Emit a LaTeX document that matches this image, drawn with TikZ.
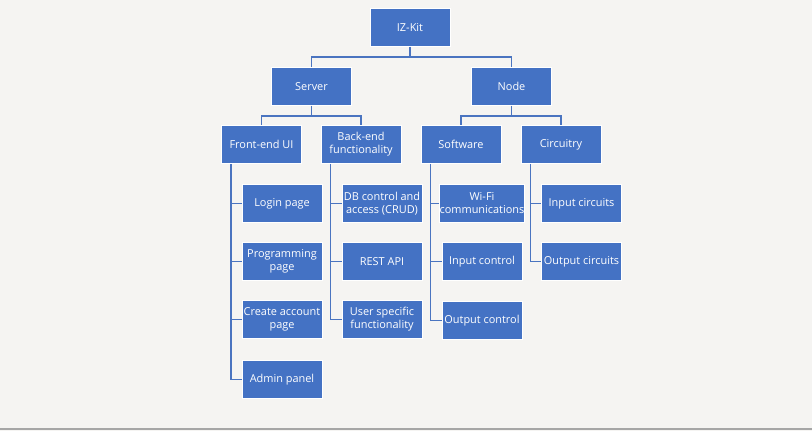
\documentclass[tikz,border=0pt]{standalone}
\usepackage{fontspec}
\setmainfont{Open Sans}
\definecolor{boxblue}{HTML}{4472C4}
\definecolor{linkblue}{HTML}{4A74C0}
\definecolor{paper}{HTML}{F5F4F2}
\definecolor{rule}{HTML}{A6A6A6}
\begin{document}
\begin{tikzpicture}
[x=0.75pt,y=-0.75pt,
 box/.style={fill=boxblue,draw=white,line width=0.75pt,text=white,
  minimum width=60pt,minimum height=28.5pt,inner sep=0pt,align=center,
  font=\fontsize{8.2}{9.8}\selectfont},
 link/.style={draw=linkblue,line width=1.1pt}]
\fill[paper] (0,0) rectangle (812,431);
\useasboundingbox (0,0) rectangle (812,431);
\draw[rule,line width=1.5pt] (0,429) -- (812,429);

\node[box] (izkit) at (410,27.5) {IZ-Kit};
\node[box] (server) at (311.5,86.5) {Server};
\node[box] (node) at (511.5,86.5) {Node};

\node[box] (front) at (261.5,144.5) {Front-end UI};
\node[box] (back) at (361,144.5) {Back-end\\functionality};
\node[box] (soft) at (461,144.5) {Software};
\node[box] (circ) at (561,144.5) {Circuitry};

\node[box] (login) at (282,203.5) {Login page};
\node[box] (prog) at (282,261.5) {Programming\\page};
\node[box] (create) at (282,319.5) {Create account\\page};
\node[box] (admin) at (282,379.5) {Admin panel};

\node[box] (db) at (382,203.5) {DB control and\\access (CRUD)};
\node[box] (rest) at (382,261.5) {REST API};
\node[box] (user) at (382,319.5) {User specific\\functionality};

\node[box] (wifi) at (482,203.5) {Wi-Fi\\communications};
\node[box] (inctl) at (482,261.5) {Input control};
\node[box] (outctl) at (482,320.5) {Output control};

\node[box] (incirc) at (581.5,203.5) {Input circuits};
\node[box] (outcirc) at (581.5,261.5) {Output circuits};

% top levels
\draw[link] (izkit.south) -- ++(0,10) -| (server.north);
\draw[link] (izkit.south) -- ++(0,10) -| (node.north);
\draw[link] (server.south) -- ++(0,10) -| (front.north);
\draw[link] (server.south) -- ++(0,10) -| (back.north);
\draw[link] (node.south) -- ++(0,10) -| (soft.north);
\draw[link] (node.south) -- ++(0,10) -| (circ.north);

% lists
\draw[link] ([xshift=7.5]front.south west) |- (login.west);
\draw[link] ([xshift=7.5]front.south west) |- (prog.west);
\draw[link] ([xshift=7.5]front.south west) |- (create.west);
\draw[link] ([xshift=7.5]front.south west) |- (admin.west);
\draw[link] ([xshift=7.5]back.south west) |- (db.west);
\draw[link] ([xshift=7.5]back.south west) |- (rest.west);
\draw[link] ([xshift=7.5]back.south west) |- (user.west);
\draw[link] ([xshift=7.5]soft.south west) |- (wifi.west);
\draw[link] ([xshift=7.5]soft.south west) |- (inctl.west);
\draw[link] ([xshift=7.5]soft.south west) |- (outctl.west);
\draw[link] ([xshift=7.5]circ.south west) |- (incirc.west);
\draw[link] ([xshift=7.5]circ.south west) |- (outcirc.west);
\end{tikzpicture}
\end{document}
